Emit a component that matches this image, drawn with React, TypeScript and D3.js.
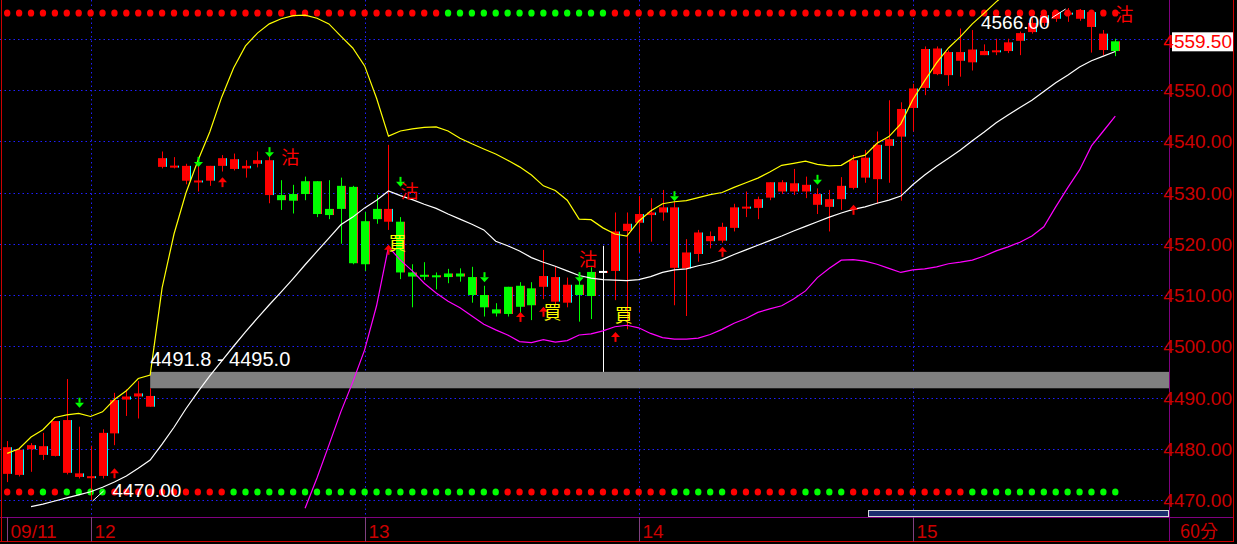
import React from 'react';
import * as d3 from 'd3';

const W = 1237;
const H = 544;

// ---------- data ----------
const dayLabels = ['09/11', '12', '13', '14', '15'];
const dayStartIndex = [0, 7, 30, 53, 76];
const priceTicks = [4470, 4480, 4490, 4500, 4510, 4520, 4530, 4540, 4550];
const gridLevels = [4470, 4480, 4490, 4500, 4510, 4520, 4530, 4540, 4550, 4560];

const opens = [
  4475.1, 4474.9, 4479.9, 4478.8, 4478.6, 4475.3, 4474.5, 4474.4, 4474.7, 4483.0,
  4489.6, 4490.2, 4488.2, 4535.0, 4535.0, 4532.3, 4532.1, 4532.3, 4535.2, 4534.6,
  4534.7, 4535.6, 4529.5, 4529.5, 4529.7, 4532.2, 4532.2, 4526.8, 4531.3, 4531.1,
  4524.4, 4526.8, 4524.3, 4524.3, 4514.4, 4513.8, 4513.7, 4514.2, 4514.2, 4513.5,
  4510.0, 4507.2, 4511.6, 4511.8, 4511.3, 4511.6, 4508.7, 4508.5, 4512.0, 4514.5,
  4514.5, 4514.7, 4522.5, 4524.1, 4525.6, 4526.1, 4515.3, 4515.2, 4518.0, 4520.5,
  4520.6, 4523.1, 4527.0, 4527.0, 4529.0, 4530.2, 4530.2, 4530.2, 4527.6, 4527.2,
  4528.7, 4530.9, 4532.9, 4532.6, 4539.1, 4540.9, 4546.5, 4550.4, 4553.1, 4552.9,
  4555.7, 4555.4, 4556.8, 4557.5, 4557.6, 4559.6, 4561.3, 4563.1, 4563.9, 4564.8,
  4563.9, 4562.3, 4557.8, 4559.5,
];
const highs = [
  4481.5, 4480.1, 4481.1, 4483.1, 4485.4, 4493.6, 4484.3, 4480.5, 4483.8, 4490.9,
  4491.6, 4493.2, 4491.8, 4538.0, 4536.9, 4535.6, 4535.8, 4535.2, 4537.3, 4537.6,
  4536.3, 4538.0, 4537.8, 4532.4, 4531.5, 4533.1, 4532.2, 4532.4, 4532.9, 4531.3,
  4526.2, 4529.5, 4539.3, 4525.2, 4516.0, 4516.4, 4514.4, 4515.1, 4515.2, 4515.5,
  4511.8, 4508.4, 4511.6, 4512.5, 4512.5, 4518.8, 4515.5, 4513.4, 4514.4, 4515.4,
  4519.6, 4526.1, 4526.1, 4529.3, 4528.9, 4530.5, 4528.5, 4520.9, 4522.7, 4522.4,
  4524.1, 4527.8, 4530.2, 4529.2, 4532.0, 4532.4, 4534.6, 4533.1, 4530.8, 4530.5,
  4533.0, 4537.3, 4538.3, 4541.9, 4548.0, 4547.6, 4551.2, 4558.5, 4558.5, 4557.7,
  4562.0, 4561.7, 4558.9, 4560.0, 4560.0, 4561.4, 4564.0, 4565.0, 4565.5, 4566.0,
  4565.8, 4565.2, 4561.7, 4560.0,
];
const lows = [
  4473.5, 4474.6, 4475.5, 4477.8, 4478.5, 4475.0, 4474.2, 4470.0, 4474.2, 4480.7,
  4486.4, 4485.9, 4488.2, 4534.7, 4534.7, 4531.6, 4530.2, 4531.3, 4534.1, 4534.3,
  4532.9, 4534.9, 4527.9, 4526.6, 4525.9, 4528.5, 4525.2, 4524.8, 4520.0, 4516.0,
  4514.7, 4523.9, 4522.7, 4513.1, 4507.6, 4512.9, 4511.1, 4512.3, 4512.6, 4508.5,
  4505.8, 4505.8, 4505.8, 4505.8, 4505.1, 4509.2, 4508.0, 4507.6, 4504.8, 4505.3,
  4495.0, 4509.0, 4503.3, 4518.3, 4520.4, 4524.5, 4508.0, 4505.9, 4516.5, 4519.1,
  4520.2, 4522.4, 4525.2, 4524.8, 4528.5, 4529.7, 4529.5, 4528.9, 4525.8, 4522.4,
  4526.6, 4530.6, 4531.9, 4527.8, 4531.9, 4528.4, 4541.9, 4549.0, 4552.9, 4550.8,
  4552.6, 4553.8, 4556.8, 4556.8, 4557.2, 4556.8, 4561.0, 4562.5, 4563.3, 4563.3,
  4563.5, 4557.3, 4556.8, 4556.6,
];
const closes = [
  4480.3, 4479.8, 4480.7, 4480.5, 4485.4, 4485.6, 4475.2, 4474.5, 4483.1, 4489.5,
  4490.2, 4490.8, 4490.3, 4536.7, 4535.1, 4535.2, 4532.2, 4535.2, 4536.7, 4536.5,
  4535.2, 4536.3, 4536.3, 4528.5, 4528.4, 4529.7, 4525.8, 4525.6, 4526.8, 4516.2,
  4516.0, 4524.8, 4526.8, 4514.4, 4513.6, 4513.7, 4513.6, 4513.5, 4513.6, 4510.0,
  4507.6, 4506.4, 4506.3, 4507.7, 4508.0, 4513.7, 4513.5, 4512.0, 4510.0, 4509.8,
  4514.5, 4522.4, 4523.9, 4525.8, 4526.1, 4527.1, 4527.1, 4518.3, 4522.2, 4521.5,
  4523.3, 4527.1, 4527.1, 4528.7, 4532.0, 4532.0, 4531.8, 4531.5, 4529.7, 4528.7,
  4531.3, 4536.3, 4536.8, 4539.3, 4540.4, 4546.3, 4550.3, 4558.0, 4558.1, 4557.4,
  4557.4, 4557.9, 4557.6, 4557.6, 4559.3, 4561.1, 4563.1, 4564.6, 4565.2, 4565.0,
  4565.6, 4565.2, 4561.0, 4557.6,
];

// upper band (yellow), starts at candle 0
const upperBand = [
  4479.1, 4480.0, 4482.3, 4483.7, 4486.1, 4486.6, 4486.9, 4486.3, 4487.2, 4489.6,
  4491.3, 4493.7, 4494.4, 4511.4, 4521.9, 4529.9, 4536.2, 4541.8, 4548.6, 4554.3,
  4558.6, 4561.1, 4562.9, 4563.9, 4564.5, 4564.6, 4564.0, 4562.9, 4560.5, 4558.2,
  4554.7, 4548.4, 4541.0, 4542.0, 4542.4, 4542.7, 4542.8, 4542.0, 4540.6, 4539.5,
  4538.5, 4537.5, 4536.3, 4535.0, 4533.4, 4531.3, 4530.4, 4528.5, 4524.8, 4524.7,
  4523.1, 4521.9, 4521.5, 4524.4, 4526.4, 4527.8, 4528.2, 4528.4, 4529.0, 4529.6,
  4530.0, 4531.0, 4531.9, 4532.8, 4534.0, 4535.3, 4535.7, 4536.1, 4535.5, 4535.2,
  4535.3, 4536.7, 4537.3, 4539.6, 4540.9, 4543.4, 4548.1, 4551.8, 4555.3, 4558.2,
  4560.4, 4562.9, 4565.0, 4567.2, 4569.1, 4570.9, 4572.4, 4574.0, 4575.4, 4576.7,
  4577.9, 4578.9, 4579.7, 4580.2,
];
const upperStart = 0;

// middle line (white), starts at candle 2
const middleLine = [
  4468.7, 4469.2, 4469.8, 4470.4, 4471.0, 4471.6, 4472.5, 4473.5, 4474.7, 4476.2,
  4477.8, 4480.9, 4484.2, 4487.8, 4491.1, 4494.2, 4497.1, 4500.0, 4502.8, 4505.5,
  4508.1, 4510.6, 4513.2, 4515.9, 4518.5, 4521.1, 4523.7, 4525.2, 4527.0, 4528.5,
  4530.3, 4529.4, 4528.6, 4527.7, 4526.9, 4525.8, 4524.8, 4523.8, 4522.7, 4520.5,
  4519.6, 4518.6, 4517.3, 4516.4, 4515.6, 4514.7, 4513.8, 4513.3, 4513.0, 4512.9,
  4512.8, 4513.0, 4513.6, 4514.4, 4514.9, 4515.1, 4515.7, 4516.2, 4516.9, 4517.9,
  4518.8, 4519.7, 4520.6, 4521.5, 4522.5, 4523.4, 4524.3, 4525.2, 4526.0, 4526.7,
  4527.2, 4527.9, 4528.5, 4529.3, 4531.5, 4533.4, 4535.1, 4536.7, 4538.3, 4540.1,
  4541.8, 4543.6, 4545.1, 4546.6, 4548.0, 4549.7, 4551.4, 4552.9, 4554.5, 4555.7,
  4556.6, 4557.5,
];
const middleStart = 2;

// lower band (magenta), starts at candle 25
const lowerBand = [
  4468.4, 4474.3, 4480.7, 4487.2, 4493.0, 4499.3, 4507.9, 4519.4, 4516.8, 4514.7,
  4512.3, 4510.4, 4508.8, 4507.5, 4505.9, 4504.3, 4503.2, 4502.2, 4500.9, 4500.7,
  4501.3, 4500.8, 4501.1, 4502.2, 4502.4, 4503.0, 4503.8, 4504.1, 4503.6, 4502.5,
  4501.7, 4501.4, 4501.4, 4501.6, 4502.3, 4503.3, 4504.5, 4505.4, 4506.6, 4507.3,
  4507.9, 4509.2, 4510.8, 4513.4, 4515.2, 4516.8, 4516.9, 4516.6, 4516.0, 4515.2,
  4514.4, 4514.9, 4515.1, 4515.5, 4516.1, 4516.4, 4516.8, 4517.6, 4518.6, 4519.4,
  4520.3, 4521.5, 4523.3, 4527.2, 4530.9, 4534.4, 4539.1, 4542.0, 4544.9,
];
const lowerStart = 25;

// signal dot rows: runs of [colour code, count]
const topDotRuns: [string, number][] = [['R', 37], ['G', 14], ['R', 43]];
const bottomDotRuns: [string, number][] = [
  ['R', 3], ['G', 1], ['R', 1], ['G', 4], ['R', 10], ['G', 23], ['R', 14],
  ['G', 5], ['R', 6], ['G', 4], ['R', 10], ['G', 13],
];

// arrows
const downArrowIdx = [6, 16, 22, 33, 40, 48, 56, 68];
const downArrowTip = [4488.0, 4535.0, 4536.9, 4531.1, 4512.5, 4512.5, 4528.3, 4531.5];
const upArrowIdx = [9, 18, 32, 43, 45, 51, 60, 71];
const upArrowTip = [4476.2, 4533.0, 4519.8, 4506.7, 4507.7, 4502.8, 4519.4, 4527.6];

// trade signal labels
const signalIdx = [23, 32, 33, 45, 48, 51, 93];
const signalText = ['沽', '買', '沽', '買', '沽', '買', '沽'];
const signalPrice = [4536.9, 4520.1, 4530.1, 4506.5, 4517.0, 4505.9, 4564.8];

// gap zone
const gapLow = 4491.8;
const gapHigh = 4495.0;
const gapStartIdx = 12;

const highLabel = 4566.0;
const highIdx = 89;
const lowLabel = 4470.0;
const lowIdx = 7;
const lastPrice = 4559.5;
const periodLabel = '60分';

// ---------- layout ----------
const plotRight = 1170;
const plotBottom = 517;
const axisBottom = 541.5;

const x = d3.scaleLinear().domain([0, 93]).range([7.2, 1115.3]);
const y = d3.scaleLinear().domain([4470, 4550]).range([500, 90]);

const RED = '#ff0000';
const GREEN = '#00ff00';
const AXIS_RED = '#cc0000';
const NUM_FONT = '"Liberation Sans", Arial, sans-serif';
const CJK_FONT = '"Noto Sans CJK TC", "Noto Sans CJK SC", sans-serif';

function expandRuns(runs: [string, number][]) {
  const out: string[] = [];
  runs.forEach(([c, n]) => {
    for (let k = 0; k < n; k++) out.push(c);
  });
  return out;
}

function seriesPath(vals: number[], start: number) {
  const line = d3
    .line<number>()
    .x((_, k) => x(k + start))
    .y((v) => y(v));
  return line(vals) || '';
}

export default function App() {
  const topDots = expandRuns(topDotRuns);
  const bottomDots = expandRuns(bottomDotRuns);

  return (
    <div style={{ position: 'absolute', left: 0, top: 0, width: W, height: H, background: '#000' }}>
      <svg width={W} height={H} style={{ display: 'block', background: '#000' }}>
        <defs>
          <clipPath id="plotClip">
            <rect x={0} y={0} width={plotRight} height={plotBottom} />
          </clipPath>
        </defs>

        {/* grid */}
        {gridLevels.map((p) => (
          <line
            key={'g' + p}
            x1={0}
            x2={plotRight}
            y1={Math.round(y(p)) + 0.5}
            y2={Math.round(y(p)) + 0.5}
            stroke="#1f1fff"
            strokeWidth={1}
            strokeDasharray="1.5,3"
          />
        ))}
        {dayStartIndex.slice(1).map((i) => (
          <line
            key={'v' + i}
            x1={Math.round(x(i)) + 0.5}
            x2={Math.round(x(i)) + 0.5}
            y1={0}
            y2={plotBottom}
            stroke="#1f1fff"
            strokeWidth={1}
            strokeDasharray="1.5,3"
          />
        ))}

        <g clipPath="url(#plotClip)">
          {/* gap zone */}
          <rect
            x={x(gapStartIdx)}
            y={y(gapHigh)}
            width={plotRight - x(gapStartIdx)}
            height={y(gapLow) - y(gapHigh)}
            fill="#808080"
          />

          {/* dot rows */}
          {topDots.map((c, i) => (
            <ellipse key={'td' + i} cx={x(i)} cy={13} rx={3.2} ry={3.6} fill={c === 'R' ? RED : GREEN} />
          ))}
          {bottomDots.map((c, i) => (
            <ellipse key={'bd' + i} cx={x(i)} cy={492} rx={3.2} ry={3.6} fill={c === 'R' ? RED : GREEN} />
          ))}

          {/* candles */}
          {opens.map((o, i) => {
            const c = closes[i];
            const up = c > o;
            const down = c < o;
            const col = up ? RED : down ? GREEN : '#ffffff';
            const edge = up ? '#00ffff' : down ? '#ff3030' : RED;
            const px = Math.round(x(i));
            const top = y(Math.max(o, c));
            const bot = y(Math.min(o, c));
            let bh = bot - top;
            let by = top;
            if (bh < 2) {
              by = (top + bot) / 2 - 1;
              bh = 2;
            }
            return (
              <g key={'c' + i}>
                <line x1={px + 0.5} x2={px + 0.5} y1={y(highs[i])} y2={y(lows[i])} stroke={col} strokeWidth={1} />
                <rect x={px - 4} y={by} width={8} height={bh} fill={col} />
                <rect x={px + 4} y={by} width={1} height={bh} fill={edge} />
              </g>
            );
          })}

          {/* band lines */}
          <path d={seriesPath(upperBand, upperStart)} fill="none" stroke="#ffff00" strokeWidth={1.2} />
          <path d={seriesPath(middleLine, middleStart)} fill="none" stroke="#ffffff" strokeWidth={1.2} />
          <path d={seriesPath(lowerBand, lowerStart)} fill="none" stroke="#ff00ff" strokeWidth={1.2} />

          {/* arrows */}
          {downArrowIdx.map((i, k) => {
            const cx = Math.round(x(i)) + 0.5;
            const ty = y(downArrowTip[k]);
            return (
              <g key={'da' + k} fill={GREEN}>
                <rect x={cx - 1} y={ty - 10} width={2} height={5} />
                <path d={`M${cx - 4.5},${ty - 5} L${cx + 4.5},${ty - 5} L${cx},${ty} Z`} />
              </g>
            );
          })}
          {upArrowIdx.map((i, k) => {
            const cx = Math.round(x(i)) + 0.5;
            const ty = y(upArrowTip[k]);
            return (
              <g key={'ua' + k} fill={RED}>
                <rect x={cx - 1} y={ty + 5} width={2} height={5} />
                <path d={`M${cx - 4.5},${ty + 5} L${cx + 4.5},${ty + 5} L${cx},${ty} Z`} />
              </g>
            );
          })}

          {/* signal labels */}
          {signalIdx.map((i, k) => (
            <text
              key={'s' + k}
              x={x(i) + 9}
              y={y(signalPrice[k])}
              dy="0.36em"
              textAnchor="middle"
              fontFamily={CJK_FONT}
              fontSize={18}
              fill={signalText[k] === '買' ? '#ffff00' : RED}
            >
              {signalText[k]}
            </text>
          ))}

          {/* gap label */}
          <text x={x(gapStartIdx)} y={y(gapHigh) - 6} fontFamily={NUM_FONT} fontSize={20} fill="#ffffff">
            {`${gapLow.toFixed(1)} - ${gapHigh.toFixed(1)}`}
          </text>

          {/* high / low labels */}
          <line x1={x(highIdx) - 2} y1={y(highLabel) + 1} x2={x(highIdx) - 16} y2={y(highLabel) + 10} stroke="#ffffff" strokeWidth={1} />
          <text x={x(highIdx) - 18} y={29} textAnchor="end" fontFamily={NUM_FONT} fontSize={19} fill="#ffffff">
            {highLabel.toFixed(2)}
          </text>
          <line x1={x(lowIdx) + 2} y1={y(lowLabel) + 1} x2={x(lowIdx) + 13} y2={y(lowLabel) - 9} stroke="#ffffff" strokeWidth={1} />
          <text x={x(lowIdx) + 22} y={y(lowLabel) - 3} fontFamily={NUM_FONT} fontSize={19} fill="#ffffff">
            {lowLabel.toFixed(2)}
          </text>
        </g>

        {/* scroll indicator */}
        <rect x={868.5} y={510.5} width={300} height={6} fill="#1c2d6e" stroke="#d8d8d8" strokeWidth={1} />

        {/* frame */}
        <line x1={0} x2={1234} y1={plotBottom + 0.5} y2={plotBottom + 0.5} stroke="#800080" strokeWidth={1} />
        <line x1={plotRight - 0.5} x2={plotRight - 0.5} y1={0} y2={axisBottom} stroke="#800080" strokeWidth={1} />
        <line x1={1.5} x2={1.5} y1={0} y2={axisBottom} stroke="#cc0000" strokeWidth={1} />
        <line x1={1233.5} x2={1233.5} y1={0} y2={axisBottom} stroke="#cc0000" strokeWidth={1} />
        <line x1={0} x2={1234} y1={axisBottom} y2={axisBottom} stroke="#cc0000" strokeWidth={1} />

        {/* price axis */}
        {priceTicks.map((p) => (
          <text
            key={'t' + p}
            x={1232}
            y={y(p) + 7}
            textAnchor="end"
            fontFamily={NUM_FONT}
            fontSize={19}
            fill={AXIS_RED}
          >
            {p.toFixed(2)}
          </text>
        ))}
        <rect x={1172} y={y(lastPrice) - 9} width={61} height={19} fill="#ffffff" />
        <text x={1232} y={y(lastPrice) + 7} textAnchor="end" fontFamily={NUM_FONT} fontSize={19} fill="#ff0000">
          {lastPrice.toFixed(2)}
        </text>

        {/* date axis */}
        {dayStartIndex.map((i, k) => {
          const sx = Math.round(x(i)) + 0.5;
          return (
            <g key={'d' + k}>
              <line x1={sx} x2={sx} y1={plotBottom} y2={axisBottom} stroke="#804080" strokeWidth={1} />
              <text x={sx + 3} y={538} fontFamily={NUM_FONT} fontSize={19} fill={AXIS_RED}>
                {dayLabels[k]}
              </text>
            </g>
          );
        })}
        <text x={1180} y={538} fontFamily={CJK_FONT} fontSize={18} fill={AXIS_RED}>
          {periodLabel}
        </text>
      </svg>
    </div>
  );
}
